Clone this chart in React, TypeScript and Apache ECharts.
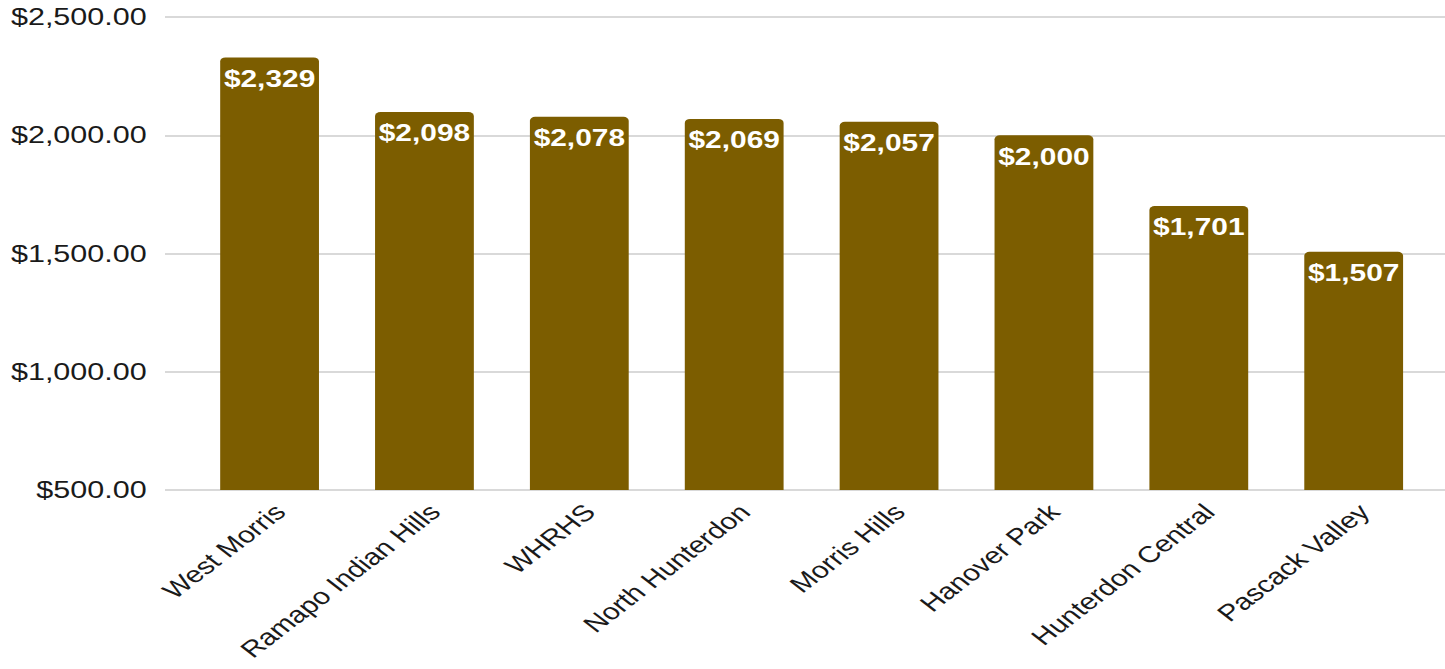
import React, { useEffect, useRef } from "react";
import * as echarts from "echarts";

const categories: string[] = [
  "West Morris",
  "Ramapo Indian Hills",
  "WHRHS",
  "North Hunterdon",
  "Morris Hills",
  "Hanover Park",
  "Hunterdon Central",
  "Pascack Valley",
];
const values: number[] = [2329, 2098, 2078, 2069, 2057, 2000, 1701, 1507];
const yMin = 500;
const yMax = 2500;
const yStep = 500;

const STRETCH = 1.3;
const W = 1445 / STRETCH;
const H = 669;

const fmtAxis = (v: number) =>
  "$" + v.toLocaleString("en-US", { minimumFractionDigits: 2, maximumFractionDigits: 2 });
const fmtBar = (v: number) => "$" + v.toLocaleString("en-US");

export default function App() {
  const ref = useRef<HTMLDivElement>(null);
  useEffect(() => {
    if (!ref.current) return;
    const chart = echarts.init(ref.current, undefined, { renderer: "svg" });
    const font = "'Liberation Sans', Arial, sans-serif";
    chart.setOption({
      animation: false,
      grid: [
        {
          left: 147.8,
          right: W - 1100.4,
          top: 17,
          bottom: H - 490,
          containLabel: false,
          outerBoundsMode: "none",
        },
        {
          left: 165 / STRETCH,
          right: 0,
          top: 17,
          bottom: H - 490,
          containLabel: false,
          outerBoundsMode: "none",
        },
      ],
      xAxis: [
        {
          type: "category",
          gridIndex: 0,
          data: categories,
          axisTick: { show: false },
          axisLine: { show: false },
          axisLabel: {
            rotate: 45,
            interval: 0,
            margin: 10,
            verticalAlign: "top",
            fontFamily: font,
            fontSize: 23,
            color: "#1a1a1a",
          },
        },
        { type: "value", gridIndex: 1, min: 0, max: 1, show: false },
      ],
      yAxis: [
        {
          type: "value",
          gridIndex: 0,
          min: yMin,
          max: yMax,
          interval: yStep,
          show: false,
        },
        {
          type: "value",
          gridIndex: 1,
          min: yMin,
          max: yMax,
          interval: yStep,
          axisLine: { show: false },
          axisTick: { show: false },
          splitLine: { lineStyle: { color: "#cccccc", width: 1.5 } },
          axisLabel: {
            formatter: (v: number) => fmtAxis(v),
            margin: 14,
            fontFamily: font,
            fontSize: 23.5,
            color: "#1a1a1a",
          },
        },
      ],
      series: [
        {
          type: "bar",
          xAxisIndex: 0,
          yAxisIndex: 0,
          data: values,
          barWidth: 76,
          itemStyle: { color: "#7c5d00", borderRadius: [4, 4, 0, 0] },
          label: {
            show: true,
            position: "insideTop",
            distance: 10,
            formatter: (p: any) => fmtBar(p.value),
            fontFamily: font,
            fontWeight: "bold",
            fontSize: 23,
            color: "#ffffff",
          },
        },
      ],
    });
    return () => chart.dispose();
  }, []);
  return (
    <div
      style={{
        position: "fixed",
        left: 0,
        top: 0,
        width: 1445,
        height: H,
        overflow: "hidden",
        background: "#ffffff",
      }}
    >
      <div
        ref={ref}
        style={{
          width: W,
          height: H,
          transform: `scaleX(${STRETCH})`,
          transformOrigin: "0 0",
        }}
      />
    </div>
  );
}
